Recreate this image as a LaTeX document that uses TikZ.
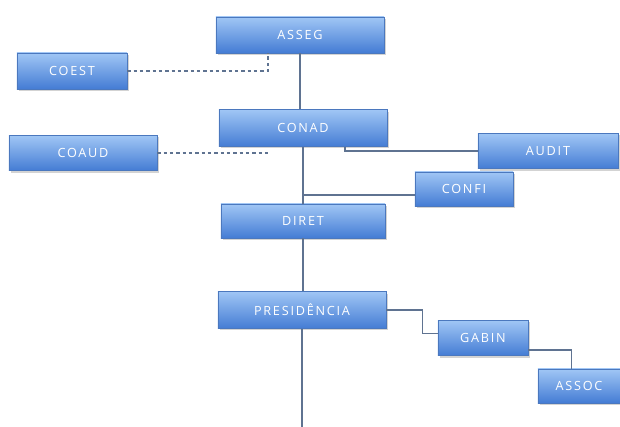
\documentclass[tikz,border=0pt]{standalone}
\usepackage{fontspec}
\newfontfamily\unitfont[LetterSpace=14]{Open Sans}
\usetikzlibrary{positioning,shadows,calc}
\definecolor{boxtop}{RGB}{160,198,245}
\definecolor{boxbot}{RGB}{68,124,212}
\definecolor{boxedge}{RGB}{75,120,190}
\definecolor{linkgray}{RGB}{95,115,145}

\begin{document}
\begin{tikzpicture}[x=0.025cm, y=-0.025cm,
  unit/.style={draw=boxedge, line width=0.4pt, top color=boxtop, bottom color=boxbot,
               minimum height=0.9cm, inner sep=2pt, align=center, text=white,
               font=\unitfont\fontsize{9}{11}\selectfont,
               drop shadow={opacity=0.35, shadow xshift=0.04cm, shadow yshift=-0.05cm}},
  link/.style={draw=linkgray, line width=0.9pt},
  dotlink/.style={draw=linkgray, line width=0.9pt, dash pattern=on 2.5pt off 2pt}
]
  \useasboundingbox (0,0) rectangle (620,427);

  % Top of the structure
  \node[unit, minimum width=4.2cm]  (asseg)  at (300, 35)  {ASSEG};
  \node[unit, minimum width=2.75cm] (coest)  at (72, 71)   {COEST};
  \node[unit, minimum width=4.2cm, minimum height=0.92cm] (conad) at (303,128) {CONAD};
  \node[unit, minimum width=3.7cm, minimum height=0.88cm] (coaud) at (83,153)  {COAUD};
  \node[unit, minimum width=3.5cm, minimum height=0.88cm] (audit) at (548,151) {AUDIT};
  \node[unit, minimum width=2.45cm, minimum height=0.85cm] (confi) at (464,189) {CONFI};

  % Executive part
  \node[unit, minimum width=4.1cm, minimum height=0.85cm]  (diret)  at (303,221) {DIRET};
  \node[unit, minimum width=4.2cm, minimum height=0.92cm]  (presid) at (302,310) {PRESIDÊNCIA};
  \node[unit, minimum width=2.25cm, minimum height=0.88cm] (gabin)  at (483,338) {GABIN};
  \node[unit, minimum width=2.05cm, minimum height=0.85cm] (assoc)  at (579,386) {ASSOC};
  \coordinate (tail) at (305,427);
  \coordinate (confiin) at ([yshift=-0.15cm]confi.west);

  % Advisory links
  \draw[dotlink] (coest.east) -| ([xshift=-0.8cm]asseg.south);
  \draw[dotlink] (coaud.east) -- ([xshift=-0.8cm]conad.south |- coaud.east);

  % Main line
  \draw[link] (asseg.south) -- (asseg.south |- conad.north);
  \draw[link] (conad.south) -- (diret.north);
  \draw[link] (diret.south) -- (diret.south |- presid.north);
  \draw[link] (presid.south) -- (presid.south |- tail);

  % Side branches
  \draw[link] ([xshift=1.05cm]conad.south) |- (audit.west);
  \draw[link] (conad.south |- confiin) -- (confiin);
  \draw[link] (presid.east) -- ++(0.9cm,0) |- ([yshift=0.12cm]gabin.west);
  \draw[link] ([yshift=-0.3cm]gabin.east) -| ([xshift=-0.18cm]assoc.north);
\end{tikzpicture}
\end{document}
